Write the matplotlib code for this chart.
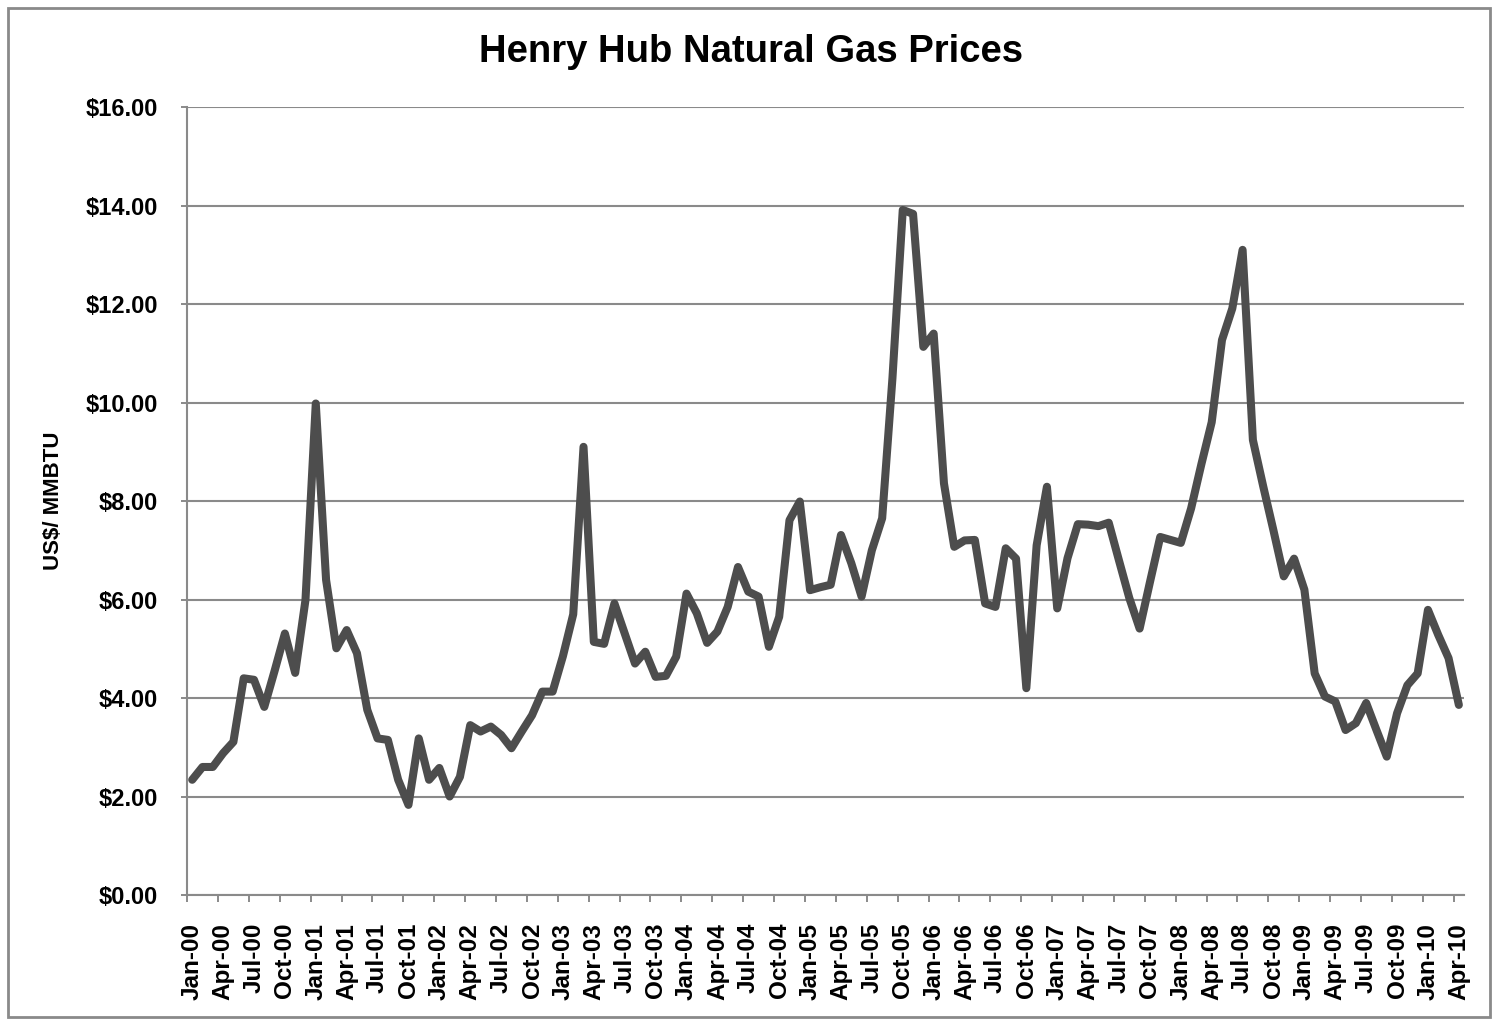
import matplotlib
matplotlib.use("Agg")
import matplotlib.pyplot as plt
import numpy as np
from matplotlib.patches import Rectangle

# monthly categories Jan-00 .. Apr-10
month_names = ["Jan", "Feb", "Mar", "Apr", "May", "Jun",
               "Jul", "Aug", "Sep", "Oct", "Nov", "Dec"]
months = [f"{m}-{y:02d}" for y in range(0, 11) for m in month_names][:124]

# Henry Hub price, US$/MMBTU
prices = [2.34, 2.60, 2.60, 2.88, 3.11, 4.40, 4.37, 3.82, 4.55, 5.31, 4.51, 5.99,
          9.98, 6.40, 5.01, 5.38, 4.91, 3.76, 3.18, 3.15, 2.34, 1.83, 3.18, 2.34,
          2.58, 2.00, 2.40, 3.45, 3.32, 3.42, 3.25, 2.98, 3.32, 3.65, 4.13, 4.13,
          4.85, 5.70, 9.10, 5.14, 5.10, 5.92, 5.31, 4.70, 4.94, 4.43, 4.45, 4.84,
          6.12, 5.72, 5.12, 5.35, 5.85, 6.66, 6.16, 6.06, 5.04, 5.65, 7.61, 7.99,
          6.19, 6.25, 6.30, 7.31, 6.74, 6.06, 7.00, 7.65, 10.50, 13.91, 13.83, 11.13,
          11.40, 8.36, 7.07, 7.20, 7.21, 5.92, 5.85, 7.04, 6.83, 4.20, 7.10, 8.29,
          5.82, 6.84, 7.53, 7.52, 7.49, 7.56, 6.79, 6.03, 5.41, 6.35, 7.27, 7.21,
          7.15, 7.85, 8.75, 9.60, 11.27, 11.91, 13.10, 9.24, 8.30, 7.40, 6.47, 6.83,
          6.20, 4.50, 4.03, 3.93, 3.35, 3.49, 3.90, 3.35, 2.81, 3.69, 4.26, 4.50,
          5.79, 5.28, 4.81, 3.86]

yticks = [0, 2, 4, 6, 8, 10, 12, 14, 16]

plt.rcParams['font.family'] = ['Liberation Sans', 'DejaVu Sans']
plt.rcParams['font.weight'] = 'bold'

grid_col = "#8a8a8a"
line_col = "#4d4d4d"

fig = plt.figure(figsize=(15, 10.29), dpi=100)
ax = fig.add_axes([0.1247, 0.1302, 0.8513, 0.7658])

x = np.arange(len(prices))
ax.plot(x, prices, color=line_col, linewidth=5.8, solid_joinstyle='round',
        solid_capstyle='round', zorder=3)

ax.set_xlim(-0.5, len(prices) - 0.5)
ax.set_ylim(0, 16)

# y axis
ax.set_yticks(yticks)
ax.set_yticklabels(["$%.2f" % v for v in yticks], fontsize=17, fontweight='bold')
ax.tick_params(axis='y', length=4, width=1.4, color=grid_col, pad=17)
ax.yaxis.grid(True, color=grid_col, linewidth=1.5)
ax.set_axisbelow(True)

# x axis: labels every 3 months, tick marks between categories
ax.set_xticks(x[::3])
ax.set_xticklabels(months[::3], rotation=90, fontsize=17.5, fontweight='bold',
                   ha='center', va='top')
ax.tick_params(axis='x', which='major', length=0, pad=20)
ax.set_xticks(np.arange(-0.5, len(prices) - 0.5, 3), minor=True)
ax.tick_params(axis='x', which='minor', length=5, width=1.4, color=grid_col)

for s in ['top', 'right']:
    ax.spines[s].set_visible(False)
for s in ['left', 'bottom']:
    ax.spines[s].set_color(grid_col)
    ax.spines[s].set_linewidth(1.5)

ax.set_ylabel("US$/ MMBTU", fontsize=16, fontweight='bold')
ax.yaxis.set_label_coords(-0.096, 0.5)

fig.text(0.5007, 0.9495, "Henry Hub Natural Gas Prices", ha='center', va='center',
         fontsize=27.5, fontweight='bold')

# chart frame
fig.patches.append(Rectangle((0.005, 0.012), 0.988, 0.98, transform=fig.transFigure,
                             fill=False, edgecolor=grid_col, linewidth=2))

fig.savefig("out.png", dpi=100)
